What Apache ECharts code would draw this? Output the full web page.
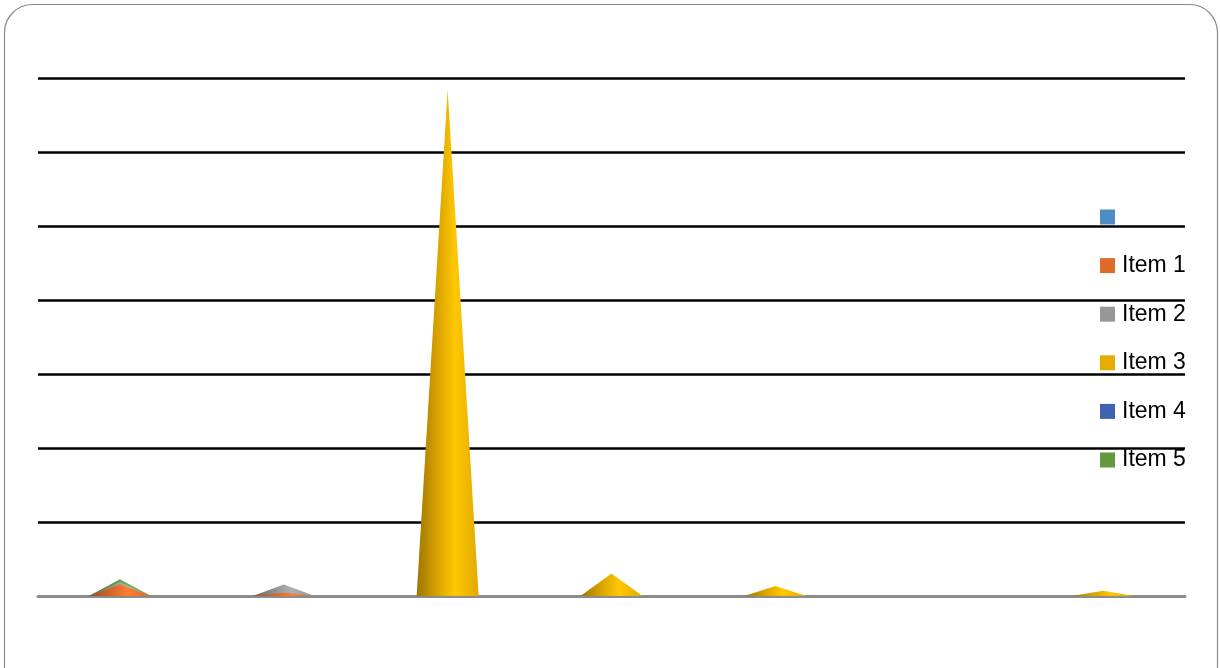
<!DOCTYPE html>
<html>
<head>
<meta charset="utf-8">
<script src="https://cdn.jsdelivr.net/npm/echarts@6/dist/echarts.min.js"></script>
<style>html,body{margin:0;padding:0;background:#fff}#c{width:1220px;height:668px}</style>
</head>
<body>
<div id="c"></div>
<script>
const categories = ['1', '2', '3', '4', '5', '6', '7'];
const seriesNames = [' ', 'Item 1', 'Item 2', 'Item 3', 'Item 4', 'Item 5'];
const blankValues = [0, 0, 0, 0, 0, 0, 0];
const item1Values = [1.55, 0.45, 0, 0, 0, 0, 0];
const item2Values = [1.9, 1.55, 0, 0, 0, 0, 0];
const item3Values = [0, 0, 68.4, 3.05, 1.35, 0, 0.7];
const item4Values = [0, 0, 0, 0, 0, 0, 0];
const item5Values = [2.25, 0, 0, 0, 0, 0, 0];
const yTicks = [0, 10, 20, 30, 40, 50, 60, 70];

const colors = ['#4f8cc6', '#de6b2a', '#979797', '#e6ac00', '#3e63b0', '#62993f'];
const allValues = [blankValues, item1Values, item2Values, item3Values, item4Values, item5Values];

function shade(hex, f) {
  const n = parseInt(hex.slice(1), 16);
  let r = (n >> 16) & 255, g = (n >> 8) & 255, b = n & 255;
  const adj = v => Math.min(255, Math.round(v * (1 + f)));
  return 'rgb(' + adj(r) + ',' + adj(g) + ',' + adj(b) + ')';
}
function grad(c) {
  return {
    type: 'linear', x: 0, y: 0, x2: 1, y2: 0,
    colorStops: [
      { offset: 0, color: shade(c, -0.32) },
      { offset: 0.3, color: shade(c, -0.08) },
      { offset: 0.62, color: shade(c, 0.16) },
      { offset: 1, color: shade(c, -0.02) }
    ]
  };
}

const zOrder = [5, 10, 9, 8, 7, 6];
const series = seriesNames.map((name, i) => ({
  name: name,
  type: 'pictorialBar',
  symbol: 'path://M0,100 L50,0 L100,100 Z',
  symbolSize: [62, '100%'],
  symbolPosition: 'start',
  barGap: '-100%',
  z: zOrder[i],
  itemStyle: { color: grad(colors[i]) },
  data: allValues[i]
}));

const chart = echarts.init(document.getElementById('c'));
chart.setOption({
  animation: false,
  color: colors,
  graphic: [{
    type: 'rect', z: 100, silent: true,
    shape: { x: 4.5, y: 4.5, width: 1213, height: 690, r: 28 },
    style: { fill: 'none', stroke: '#8a8a8a', lineWidth: 1.2 }
  }],
  grid: { left: 38, right: 35, top: 78, bottom: 72 },
  legend: {
    orient: 'vertical', left: 1095, top: 200.5,
    itemWidth: 15, itemHeight: 15, itemGap: 25.6,
    icon: 'rect',
    data: seriesNames.map((n, i) => ({ name: n, itemStyle: { color: colors[i] } })),
    textStyle: { fontFamily: 'Liberation Sans', fontSize: 23, color: '#000', lineHeight: 15, padding: [0, 0, 0, 2] }
  },
  xAxis: {
    type: 'category', data: categories,
    axisLine: { lineStyle: { color: '#8c8c8c', width: 3 } },
    axisTick: { show: false }, axisLabel: { show: false }
  },
  yAxis: {
    type: 'value', min: 0, max: 70, interval: 10,
    axisLine: { show: false }, axisTick: { show: false }, axisLabel: { show: false },
    splitLine: { showMinLine: false, lineStyle: { color: '#000', width: 2.5 } }
  },
  series: series
});
</script>
</body>
</html>
